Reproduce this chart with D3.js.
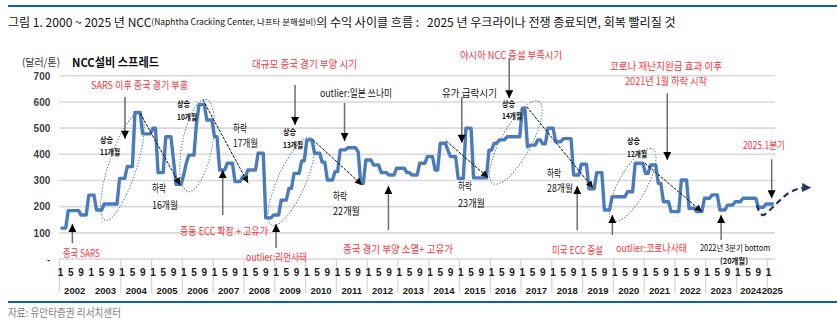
<!DOCTYPE html>
<html>
<head>
<meta charset="utf-8">
<script src="https://cdn.jsdelivr.net/npm/d3@7"></script>
<style>
  body { margin: 0; background: #fff; }
  svg { display: block; }
  text { font-family: "Noto Sans CJK KR", "Noto Sans", sans-serif; }
</style>
</head>
<body>
<svg id="chart" width="837" height="327"></svg>
<script>
// NCC spread, USD/ton, monthly from Jan 2002 to Mar 2025
const spread = [
  118,118,118,185,185,185,185,185,168,168,168,244, // 2002
  244,244,187,187,187,210,210,210,210,210,210,308, // 2003
  308,308,353,353,353,560,560,560,478,478,478,478, // 2004
  500,500,330,330,330,467,467,467,380,285,285,285, // 2005
  321,366,397,397,397,520,590,590,590,531,531,531, // 2006
  467,467,340,340,340,366,366,366,296,296,296,314, // 2007
  314,340,340,340,340,404,404,404,157,157,157,168, // 2008
  168,168,225,225,225,270,270,327,327,327,375,375, // 2009
  455,455,455,404,404,404,370,370,302,302,302,334, // 2010
  334,417,417,417,425,425,425,425,410,289,289,378, // 2011
  378,378,359,359,359,330,330,330,321,321,321,347, // 2012
  347,347,347,330,330,321,321,321,366,366,366,391, // 2013
  391,391,340,340,442,442,442,415,391,391,391,308, // 2014
  308,308,500,500,500,310,310,310,310,310,310,416, // 2015
  416,442,442,455,455,455,467,467,467,467,467,467, // 2016
  576,576,429,435,435,435,455,455,440,440,500,500, // 2017
  500,448,448,448,460,460,460,460,321,321,321,362, // 2018
  362,362,268,268,268,330,330,330,187,187,187,238, // 2019
  238,238,238,238,238,257,257,257,366,366,366,366, // 2020
  327,327,359,359,359,289,289,219,219,219,181,181, // 2021
  181,181,302,302,302,194,194,194,181,181,181,232, // 2022
  232,232,245,245,245,187,187,187,206,206,206,219, // 2023
  219,219,232,232,232,232,232,232,198,198,198,210, // 2024
  210,210,210                                      // 2025
];
const years = d3.range(2002, 2026);
const monthTicks = [1, 5, 9];
const yTicks = [0, 100, 200, 300, 400, 500, 600, 700];

// recovery path after 2025 Q1 (month index, value)
const outlookPath = [[271.4,206],[272.7,175],[273.9,168],[277.2,194],[280.5,225],[283.7,251],[288.3,270],[292.6,272]];

// event call-outs: vertical arrows (month index, start value, tip value)
const eventArrows = [
  [25.1, 619, 459], [4.6, 61, 134], [91.4, 665, 512], [110.7, 596, 451],
  [156.4, 619, 444], [174.9, 768, 614], [236.5, 633, 378], [277.2, 381, 232],
  [63.2, 168, 340], [84.0, 42, 134], [127.8, 111, 279], [201.4, 111, 279],
  [215.1, 92, 168], [257.5, 73, 168]
];
// peak-to-trough trend arrows (month, value) -> (month, value)
const downTrends = [
  [31.0, 557, 46.6, 283], [55.5, 608, 73.1, 290], [98.4, 455, 117.5, 283],
  [150.3, 451, 166.7, 311], [181.7, 582, 207.6, 271], [227.8, 366, 250.0, 181]
];
// up-cycle rings: centre (month, value), radii px, tilt deg
const upCycles = [
  [24.1, 352, 56, 14, -72], [53.2, 434, 47, 15, -79], [90.0, 296, 48, 14, -66],
  [177.5, 445, 47, 15, -61], [223.0, 283, 41, 14, -61]
];

const red = "#ff3340";
const notes = [
  // text, x, y, width, size, colour, weight
  ["SARS 이후 중국 경기 부흥", 91, 84, 97, 10, red, 400],
  ["중국 SARS", 63, 252, 37, 10, red, 400],
  ["대규모 중국 경기 부양 시기", 252, 63, 105, 10, red, 400],
  ["중동 ECC 확장 + 고유가", 180, 230, 88, 10, red, 400],
  ["outlier:리먼사태", 246, 256, 61, 10, red, 400],
  ["중국 경기 부양 소멸+ 고유가", 343, 248, 110, 10, red, 400],
  ["아시아 NCC 증설 부족시기", 460, 54, 102, 10, red, 400],
  ["미국 ECC 증설", 552, 249, 51, 10, red, 400],
  ["outlier:코로나사태", 616, 247, 71, 10, red, 400],
  ["코로나 재난지원금 효과 이후", 610, 65, 112, 10, red, 400],
  ["2021년 1월 하락 시작", 625, 80, 82, 10, red, 400],
  ["2025.1분기", 743, 144, 42, 10, red, 400],
  ["outlier:일본 쓰나미", 320, 92, 72, 10, "#111", 400],
  ["유가 급락시기", 442, 92, 55, 10, "#111", 400],
  ["2022년 3분기 bottom", 700, 247, 70, 8.5, "#111", 400],
  ["(20개월)", 720, 260, 28, 8, "#222", 700],
  ["하락", 152, 187, 14, 10.5, "#111", 400], ["16개월", 152, 204, 26, 10.5, "#111", 400],
  ["하락", 233, 127, 14, 10.5, "#111", 400], ["17개월", 233, 142, 25, 10.5, "#111", 400],
  ["하락", 333, 195, 14, 10.5, "#111", 400], ["22개월", 333, 210, 27, 10.5, "#111", 400],
  ["하락", 458, 185, 14, 10.5, "#111", 400], ["23개월", 458, 202, 27, 10.5, "#111", 400],
  ["하락", 547, 172, 14, 10.5, "#111", 400], ["28개월", 547, 187, 26, 10.5, "#111", 400],
  ["상승", 100, 139, 13, 8.5, "#111", 700], ["11개월", 100, 151, 20, 8, "#111", 700],
  ["상승", 177, 103, 13, 8.5, "#111", 700], ["10개월", 177, 116, 20, 8, "#111", 700],
  ["상승", 283, 131, 13, 8.5, "#111", 700], ["13개월", 283, 144, 20, 8, "#111", 700],
  ["상승", 502, 103, 13, 8.5, "#111", 700], ["14개월", 502, 115, 20, 8, "#111", 700],
  ["상승", 627, 140, 13, 8.5, "#111", 700], ["12개월", 627, 153, 20, 8, "#111", 700]
];

const svg = d3.select("#chart");
const N = spread.length;
const x = d3.scaleLinear().domain([-0.5, N - 0.5]).range([59.3, 775]);
const y = d3.scaleLinear().domain([0, 700]).range([259, 75.8]);

// arrow heads
const defs = svg.append("defs");
function head(id, color, w, h) {
  defs.append("marker").attr("id", id)
    .attr("viewBox", "0 0 10 10").attr("refX", 10).attr("refY", 5)
    .attr("markerUnits", "userSpaceOnUse")
    .attr("markerWidth", w).attr("markerHeight", h)
    .attr("orient", "auto")
    .append("path").attr("d", "M0,0L10,5L0,10Z").attr("fill", color);
}
head("hEvent", "#000", 9, 8);
head("hTrend", "#111", 8, 7);
head("hOutlook", "#1f3864", 10, 9);

// header and footer rules
[6, 302].forEach(v => svg.append("line")
  .attr("x1", 8).attr("x2", 837).attr("y1", v).attr("y2", v)
  .attr("stroke", "#0b5fae").attr("stroke-width", 2));

// title: a single flowing line, the expanded NCC name set small;
// sizes are scaled down together so the line ends where the header text should
const titleParts = [
  ["그림 1. 2000 ~ 2025 년 NCC", 13.5, 0],
  ["(Naphtha Cracking Center, 나프타 분해설비)", 9.5, 0],
  ["의 수익 사이클 흐름 :", 13.5, 0],
  ["2025 년 우크라이나 전쟁 종료되면, 회복 빨리질 것", 13.5, 9]
];
const title = svg.append("text").attr("x", 8).attr("y", 21)
  .attr("dominant-baseline", "central").attr("fill", "#111");
const tspans = title.selectAll("tspan").data(titleParts).join("tspan")
  .attr("dominant-baseline", "central")
  .attr("font-size", d => d[1]).attr("dx", d => d[2]).text(d => d[0]);
const titleLen = title.node().getComputedTextLength();
const fit = Math.min(1, 660 / titleLen);
tspans.attr("font-size", d => d[1] * fit).attr("dx", d => d[2] * fit);

svg.append("text").attr("x", 8).attr("y", 312).attr("dominant-baseline", "central")
  .attr("font-size", 11).attr("fill", "#808080")
  .attr("textLength", 113).attr("lengthAdjust", "spacingAndGlyphs")
  .text("자료: 유안타증권 리서치센터");

// unit and series name
svg.append("text").attr("x", 22).attr("y", 61).attr("dominant-baseline", "central")
  .attr("font-size", 10.5).attr("fill", "#333")
  .attr("textLength", 38).attr("lengthAdjust", "spacingAndGlyphs").text("(달러/톤)");
svg.append("text").attr("x", 72).attr("y", 61).attr("dominant-baseline", "central")
  .attr("font-size", 12).attr("font-weight", 700).attr("fill", "#111")
  .attr("textLength", 87).attr("lengthAdjust", "spacingAndGlyphs").text("NCC설비 스프레드");

// horizontal gridlines
svg.append("g").selectAll("line").data(yTicks).join("line")
  .attr("x1", x.range()[0]).attr("x2", x.range()[1])
  .attr("y1", d => y(d)).attr("y2", d => y(d))
  .attr("stroke", "#d9d9d9").attr("stroke-width", 1.6);

// y axis labels
const yAxis = svg.append("g").attr("transform", `translate(${x.range()[0]},0)`)
  .call(d3.axisLeft(y).tickValues(yTicks).tickSize(0).tickPadding(9)
    .tickFormat(d => d === 0 ? "-" : d));
yAxis.select(".domain").remove();
yAxis.selectAll("text").attr("font-size", 10).attr("font-weight", 700)
  .attr("fill", "#404040").style("font-family", "'Liberation Sans', sans-serif");

// category axis: year separators, month ticks, year labels
const xAxis = svg.append("g");
xAxis.selectAll("line.sep").data(years.filter(yr => yr !== 2003)).join("line")
  .attr("class", "sep")
  .attr("x1", yr => x((yr - 2002) * 12 - 0.5)).attr("x2", yr => x((yr - 2002) * 12 - 0.5))
  .attr("y1", y(0)).attr("y2", 293).attr("stroke", "#d4d4d4").attr("stroke-width", 1.2);

const monthLabels = [];
years.forEach((yr, k) => monthTicks.forEach(mo => {
  const idx = k * 12 + mo - 1;
  if (idx < N) monthLabels.push({ idx, mo });
}));
xAxis.selectAll("text.mo").data(monthLabels).join("text").attr("class", "mo")
  .attr("x", d => x(d.idx)).attr("y", 272).attr("text-anchor", "middle")
  .attr("dominant-baseline", "central").attr("font-size", 10).attr("font-weight", 700)
  .attr("fill", "#1a1a1a").style("font-family", "'Liberation Sans', sans-serif")
  .text(d => d.mo);

// year labels centred on their span; the short final year is nudged clear of its neighbour
const yearPos = years.map((yr, k) => (x(k * 12 - 0.5) + x(Math.min(k * 12 + 11.5, N - 0.5))) / 2);
const yearW = 21;
for (let k = 1; k < yearPos.length; k++) {
  const gap = yearPos[k] - yearPos[k - 1] - yearW - 0.5;
  if (gap < 0) { yearPos[k - 1] += gap / 2; yearPos[k] -= gap / 2; }
}
xAxis.selectAll("text.yr").data(years).join("text").attr("class", "yr")
  .attr("x", (yr, k) => yearPos[k])
  .attr("y", 290).attr("text-anchor", "middle").attr("dominant-baseline", "central")
  .attr("font-size", 9.5).attr("font-weight", 700).attr("fill", "#1a1a1a")
  .style("font-family", "'Liberation Sans', sans-serif")
  .text(yr => yr);

// spread line
svg.append("path").datum(spread)
  .attr("d", d3.line().x((d, i) => x(i)).y(d => y(d)))
  .attr("fill", "none").attr("stroke", "#4a7cbc").attr("stroke-width", 3.4)
  .attr("stroke-linejoin", "round");

// up-cycle rings
svg.append("g").selectAll("ellipse").data(upCycles).join("ellipse")
  .attr("transform", d => `translate(${x(d[0])},${y(d[1])}) rotate(${d[4]})`)
  .attr("rx", d => d[2]).attr("ry", d => d[3])
  .attr("fill", "none").attr("stroke", "#5a78aa").attr("stroke-width", 1)
  .attr("stroke-dasharray", "1.3,1.7");

// trend arrows
svg.append("g").selectAll("line").data(downTrends).join("line")
  .attr("x1", d => x(d[0])).attr("y1", d => y(d[1]))
  .attr("x2", d => x(d[2])).attr("y2", d => y(d[3]))
  .attr("stroke", "#111").attr("stroke-width", 1)
  .attr("stroke-dasharray", "3,1.2").attr("marker-end", "url(#hTrend)");

// event arrows
svg.append("g").selectAll("line").data(eventArrows).join("line")
  .attr("x1", d => x(d[0])).attr("x2", d => x(d[0]))
  .attr("y1", d => y(d[1])).attr("y2", d => y(d[2]))
  .attr("stroke", "#6e6e6e").attr("stroke-width", 1.5)
  .attr("marker-end", "url(#hEvent)");

// outlook path
svg.append("path").datum(outlookPath)
  .attr("d", d3.line().x(d => x(d[0])).y(d => y(d[1])).curve(d3.curveCatmullRom))
  .attr("fill", "none").attr("stroke", "#1f3864").attr("stroke-width", 2.2)
  .attr("stroke-dasharray", "6,4").attr("marker-end", "url(#hOutlook)");

// annotation text
svg.append("g").selectAll("text").data(notes).join("text")
  .attr("x", d => d[1]).attr("y", d => d[2]).attr("dominant-baseline", "central")
  .attr("textLength", d => d[3]).attr("lengthAdjust", "spacingAndGlyphs")
  .attr("font-size", d => d[4]).attr("fill", d => d[5]).attr("font-weight", d => d[6])
  .text(d => d[0]);
</script>
</body>
</html>
